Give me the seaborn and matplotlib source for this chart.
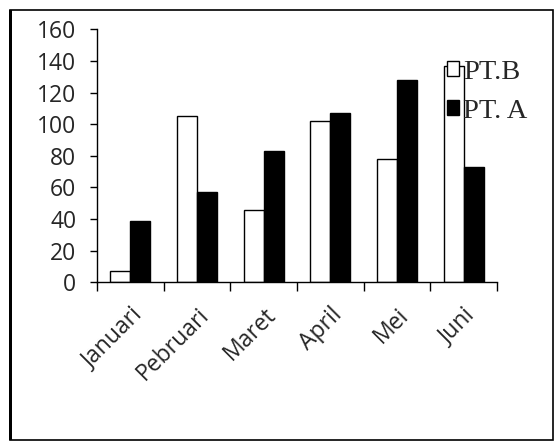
import matplotlib
matplotlib.use("Agg")
import matplotlib.pyplot as plt
import matplotlib.transforms as mtransforms
import seaborn as sns
import pandas as pd
from matplotlib.patches import Rectangle

months = ["Januari", "Pebruari", "Maret", "April", "Mei", "Juni"]
pt_b = [7, 105, 46, 102, 78, 137]
pt_a = [39, 57, 83, 107, 128, 73]
series = ["PT.B", "PT. A"]
y_ticks = [0, 20, 40, 60, 80, 100, 120, 140, 160]

df = pd.DataFrame({
    "month": months * 2,
    "value": pt_b + pt_a,
    "series": [series[0]] * len(months) + [series[1]] * len(months),
})

sns.set_style("white")
plt.rcParams["font.family"] = ["Open Sans", "DejaVu Sans"]

W, H = 559, 447
fig = plt.figure(figsize=(W / 100, H / 100), dpi=100)
ax_l, ax_r, ax_t, ax_b = 97, 497, 29.3, 282.4
ax = fig.add_axes([ax_l / W, 1 - ax_b / H, (ax_r - ax_l) / W, (ax_b - ax_t) / H])

sns.barplot(data=df, x="month", y="value", hue="series", hue_order=series,
            order=months, palette=["white", "black"], edgecolor="black",
            linewidth=1.0, width=0.6, ax=ax, legend=True)

ax.set_ylim(0, 160)
ax.set_xlim(-0.5, len(months) - 0.5)
ax.set_yticks(y_ticks)
ax.set_yticklabels([str(t) for t in y_ticks], fontsize=16.5)
ax.set_xlabel("")
ax.set_ylabel("")
ax.set_xticks(range(len(months)))
ax.set_xticklabels(months, rotation=45, ha="right", va="top",
                   rotation_mode="anchor", fontsize=16.5)
offset = mtransforms.ScaledTranslation(-0.02, 0, fig.dpi_scale_trans)
for lbl in ax.get_xticklabels():
    lbl.set_transform(lbl.get_transform() + offset)
ax.tick_params(axis="x", length=0, pad=15)
ax.tick_params(axis="y", left=True, length=5, width=1, color="black", pad=10)
ax.set_xticks([i - 0.5 for i in range(len(months) + 1)], minor=True)
ax.tick_params(axis="x", which="minor", bottom=True, length=6.5, width=1, color="black")

for s in ["top", "right"]:
    ax.spines[s].set_visible(False)
for s in ["left", "bottom"]:
    ax.spines[s].set_color("black")
    ax.spines[s].set_linewidth(1.0)

leg = ax.legend(loc="center left", bbox_to_anchor=(0.875, 0.753), frameon=False,
                prop={"family": "Liberation Serif", "size": 20.5},
                handlelength=0.42, handleheight=0.42, handletextpad=0.15,
                labelspacing=0.5, borderaxespad=0, borderpad=0)
for h in leg.legend_handles:
    h.set_edgecolor("black")

fig.patches.append(Rectangle((10 / W, 1 - 440 / H), 543 / W, 430 / H,
                             transform=fig.transFigure, fill=False,
                             edgecolor="black", linewidth=1.2))
fig.patches.append(Rectangle((9 / W, 1 - 440 / H), 3 / W, 430 / H,
                             transform=fig.transFigure, fill=True,
                             facecolor="black", edgecolor="none"))

fig.savefig("out.png", dpi=100)
